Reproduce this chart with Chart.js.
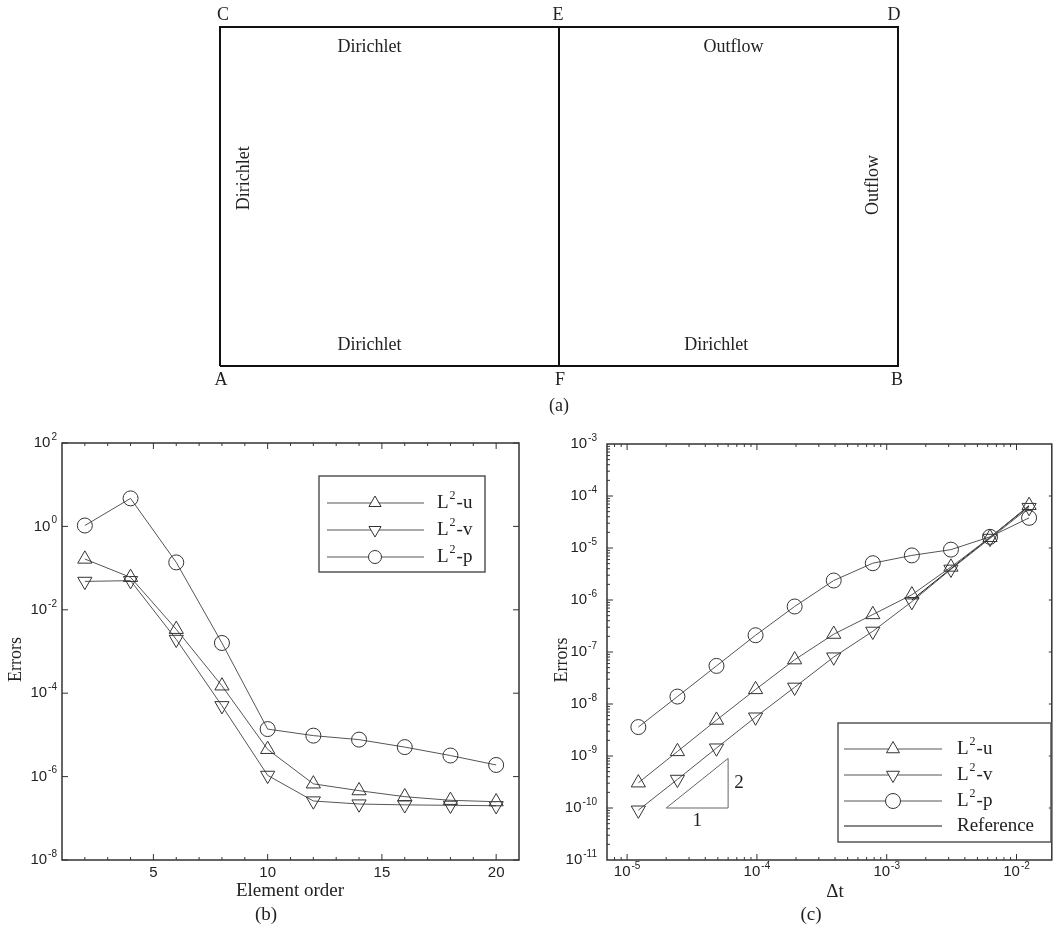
<!DOCTYPE html>
<html>
<head>
<meta charset="utf-8">
<script src="https://cdn.jsdelivr.net/npm/chart.js@4.4.1/dist/chart.umd.min.js"></script>
<style>
  body { margin: 0; background: #fff; }
  #wrap { position: relative; width: 1061px; height: 930px; background: #fff; }
  canvas { position: absolute; }
</style>
</head>
<body>
<div id="wrap">
  <canvas id="domain" width="1061" height="420" style="left:0;top:0"></canvas>
  <canvas id="order" width="540" height="510" style="left:0;top:420px"></canvas>
  <canvas id="dt" width="521" height="510" style="left:540px;top:420px"></canvas>
</div>
<script>
  "use strict";

  // (a) domain outline, in units of the half-width
  var domainX = [0, 2, 2, 0, 0];
  var domainY = [0, 0, 1, 1, 0];
  var splitX = [1, 1];
  var splitY = [0, 1];

  // (b) errors vs element order
  var orders = [2, 4, 6, 8, 10, 12, 14, 16, 18, 20];
  var orderErrU = [0.165, 0.060, 3.4e-3, 1.5e-4, 4.5e-6, 6.7e-7, 4.6e-7, 3.3e-7, 2.7e-7, 2.5e-7];
  var orderErrV = [0.048, 0.050, 1.95e-3, 5.0e-5, 1.07e-6, 2.6e-7, 2.2e-7, 2.1e-7, 2.05e-7, 2.0e-7];
  var orderErrP = [1.05, 4.7, 0.137, 1.6e-3, 1.38e-5, 9.6e-6, 7.7e-6, 5.1e-6, 3.2e-6, 1.9e-6];
  var orderTicks = [5, 10, 15, 20];
  var orderErrExp = [2, 0, -2, -4, -6, -8];

  // (c) errors vs time step
  var dtValues = [1.2207e-5, 2.4414e-5, 4.8828e-5, 9.7656e-5, 1.9531e-4, 3.9063e-4, 7.8125e-4, 1.5625e-3, 3.125e-3, 6.25e-3, 1.25e-2];
  var dtErrU = [3.05e-10, 1.22e-9, 4.9e-9, 1.9e-8, 7.1e-8, 2.2e-7, 5.25e-7, 1.26e-6, 4.3e-6, 1.6e-5, 6.6e-5];
  var dtErrV = [9.1e-11, 3.55e-10, 1.42e-9, 5.6e-9, 2.1e-8, 8.0e-8, 2.5e-7, 9.3e-7, 3.9e-6, 1.53e-5, 6.0e-5];
  var dtErrP = [3.6e-9, 1.39e-8, 5.4e-8, 2.1e-7, 7.5e-7, 2.37e-6, 5.1e-6, 7.2e-6, 9.3e-6, 1.64e-5, 3.8e-5];
  var refDt = [1.5625e-3, 1.25e-2];
  var refErr = [1.0e-6, 6.4e-5];
  var slopeDt = [2e-5, 6e-5, 6e-5, 2e-5];
  var slopeErr = [1e-10, 1e-10, 9e-10, 1e-10];
  var dtExp = [-5, -4, -3, -2];
  var dtErrExp = [-3, -4, -5, -6, -7, -8, -9, -10, -11];

  var sans = '"Liberation Sans", Arial, sans-serif';
  var serif = '"Liberation Serif", "Times New Roman", serif';
  var ink = '#222';
  var lineColor = '#555';
  var markColor = '#333';

  function pts(xs, ys) {
    return xs.map(function (x, i) { return { x: x, y: ys[i] }; });
  }

  function series(label, xs, ys, style, rot) {
    return {
      label: label,
      data: pts(xs, ys),
      showLine: true,
      borderColor: lineColor,
      borderWidth: 1,
      pointStyle: style,
      pointRotation: rot || 0,
      pointRadius: style === 'circle' ? 7.5 : 8.2,
      pointBackgroundColor: 'rgba(0,0,0,0)',
      pointBorderColor: markColor,
      pointBorderWidth: 1,
      clip: false
    };
  }

  function plainLine(xs, ys, color, width) {
    return {
      data: pts(xs, ys), showLine: true, borderColor: color, borderWidth: width,
      pointRadius: 0, clip: false
    };
  }

  function drawPow(ctx, x, y, exp, align) {
    var e = String(exp);
    ctx.font = '15px ' + sans;
    var wb = ctx.measureText('10').width;
    ctx.font = '10px ' + sans;
    var we = ctx.measureText(e).width;
    var x0 = align === 'right' ? x - wb - we - 1 : x - (wb + we + 1) / 2;
    ctx.fillStyle = ink;
    ctx.textAlign = 'left';
    ctx.textBaseline = 'middle';
    ctx.font = '15px ' + sans;
    ctx.fillText('10', x0, y);
    ctx.font = '10px ' + sans;
    ctx.fillText(e, x0 + wb + 1, y - 6);
  }

  function drawL2(ctx, x, y, suffix) {
    ctx.fillStyle = ink;
    ctx.textAlign = 'left';
    ctx.textBaseline = 'middle';
    ctx.font = '19px ' + serif;
    ctx.fillText('L', x, y);
    var w = ctx.measureText('L').width;
    ctx.font = '12px ' + serif;
    ctx.fillText('2', x + w + 1, y - 7);
    var w2 = ctx.measureText('2').width;
    ctx.font = '19px ' + serif;
    ctx.fillText('-' + suffix, x + w + w2 + 2, y);
  }

  function marker(ctx, style, x, y, r) {
    ctx.beginPath();
    if (style === 'circle') {
      ctx.arc(x, y, r, 0, Math.PI * 2);
    } else {
      var s = style === 'down' ? -1 : 1;
      ctx.moveTo(x, y - s * r);
      ctx.lineTo(x + r * 0.866, y + s * r / 2);
      ctx.lineTo(x - r * 0.866, y + s * r / 2);
      ctx.closePath();
    }
    ctx.fillStyle = '#fff';
    ctx.fill();
    ctx.strokeStyle = markColor;
    ctx.lineWidth = 1;
    ctx.stroke();
  }

  function drawLegend(ctx, box, rows) {
    ctx.save();
    ctx.strokeStyle = '#555';
    ctx.lineWidth = 1.5;
    ctx.strokeRect(box.x, box.y, box.w, box.h);
    rows.forEach(function (r) {
      ctx.strokeStyle = r.color;
      ctx.lineWidth = 1;
      ctx.beginPath();
      ctx.moveTo(box.l0, r.y);
      ctx.lineTo(box.l1, r.y);
      ctx.stroke();
      if (r.style) marker(ctx, r.style, box.m, r.y, r.size);
      if (r.suffix) {
        drawL2(ctx, box.t, r.y, r.suffix);
      } else {
        ctx.fillStyle = ink;
        ctx.font = '19px ' + serif;
        ctx.textAlign = 'left';
        ctx.textBaseline = 'middle';
        ctx.fillText(r.text, box.t, r.y);
      }
    });
    ctx.restore();
  }

  // frame with inward ticks on all sides
  function drawFrame(chart, xTicks, yTicksL, yTicksR) {
    var ctx = chart.ctx, a = chart.chartArea, sx = chart.scales.x, sy = chart.scales.y;
    ctx.save();
    ctx.strokeStyle = '#333';
    ctx.lineWidth = 1;
    ctx.beginPath();
    xTicks.forEach(function (t) {
      var px = sx.getPixelForValue(t.v), len = t.major ? 6 : 3;
      ctx.moveTo(px, a.bottom); ctx.lineTo(px, a.bottom - len);
      ctx.moveTo(px, a.top); ctx.lineTo(px, a.top + len);
    });
    yTicksL.forEach(function (t) {
      var py = sy.getPixelForValue(t.v), len = t.major ? 6 : 3;
      ctx.moveTo(a.left, py); ctx.lineTo(a.left + len, py);
    });
    yTicksR.forEach(function (t) {
      var py = sy.getPixelForValue(t.v), len = t.major ? 6 : 3;
      ctx.moveTo(a.right, py); ctx.lineTo(a.right - len, py);
    });
    ctx.stroke();
    ctx.lineWidth = 1.5;
    ctx.strokeRect(a.left, a.top, a.right - a.left, a.bottom - a.top);
    ctx.restore();
  }

  function text(ctx, s, x, y, font, rot) {
    ctx.save();
    ctx.fillStyle = ink;
    ctx.font = font;
    ctx.textAlign = 'center';
    ctx.textBaseline = 'middle';
    ctx.translate(x, y);
    if (rot) ctx.rotate(rot);
    ctx.fillText(s, 0, 0);
    ctx.restore();
  }

  var baseOpts = {
    responsive: false,
    animation: false,
    devicePixelRatio: 1,
    plugins: { legend: { display: false }, tooltip: { enabled: false } }
  };

  function opts(padding, xScale, yScale) {
    return Object.assign({}, baseOpts, {
      layout: { padding: padding },
      scales: { x: xScale, y: yScale }
    });
  }

  // ---------- (a) ----------
  var domainLabels = {
    id: 'domainLabels',
    afterDraw: function (chart) {
      var ctx = chart.ctx, sx = chart.scales.x, sy = chart.scales.y;
      var f = '18px ' + serif;
      var top = sy.getPixelForValue(1), bot = sy.getPixelForValue(0);
      text(ctx, 'C', sx.getPixelForValue(0) + 3, top - 12, f);
      text(ctx, 'E', sx.getPixelForValue(1) - 1, top - 12, f);
      text(ctx, 'D', sx.getPixelForValue(2) - 4, top - 12, f);
      text(ctx, 'A', sx.getPixelForValue(0) + 1, bot + 14, f);
      text(ctx, 'F', sx.getPixelForValue(1) + 1, bot + 14, f);
      text(ctx, 'B', sx.getPixelForValue(2) - 1, bot + 14, f);
      text(ctx, 'Dirichlet', sx.getPixelForValue(0.441), sy.getPixelForValue(0.941), f);
      text(ctx, 'Outflow', sx.getPixelForValue(1.515), sy.getPixelForValue(0.941), f);
      text(ctx, 'Dirichlet', sx.getPixelForValue(0.441), sy.getPixelForValue(0.062), f);
      text(ctx, 'Dirichlet', sx.getPixelForValue(1.464), sy.getPixelForValue(0.062), f);
      text(ctx, 'Dirichlet', sx.getPixelForValue(0.071), sy.getPixelForValue(0.554), f, -Math.PI / 2);
      text(ctx, 'Outflow', sx.getPixelForValue(1.926), sy.getPixelForValue(0.534), f, -Math.PI / 2);
      text(ctx, '(a)', sx.getPixelForValue(1), bot + 40, f);
    }
  };

  new Chart(document.getElementById('domain'), {
    type: 'scatter',
    data: {
      datasets: [
        plainLine(domainX, domainY, '#111', 2),
        plainLine(splitX, splitY, '#111', 2)
      ]
    },
    options: opts({ left: 220, right: 163, top: 27, bottom: 54 },
      { type: 'linear', min: 0, max: 2, display: false },
      { type: 'linear', min: 0, max: 1, display: false }),
    plugins: [domainLabels]
  });

  // ---------- (b) ----------
  var orderDeco = {
    id: 'orderDeco',
    afterDraw: function (chart) {
      var ctx = chart.ctx, a = chart.chartArea, sx = chart.scales.x, sy = chart.scales.y;
      var xt = [];
      for (var i = 2; i <= 20; i++) xt.push({ v: i, major: orderTicks.indexOf(i) >= 0 });
      var yt = orderErrExp.map(function (e) { return { v: Math.pow(10, e), major: true }; });
      drawFrame(chart, xt, yt, yt);
      ctx.save();
      orderTicks.forEach(function (t) {
        text(ctx, String(t), sx.getPixelForValue(t), a.bottom + 13, '15px ' + sans);
      });
      orderErrExp.forEach(function (e) {
        drawPow(ctx, a.left - 5, sy.getPixelForValue(Math.pow(10, e)), e, 'right');
      });
      text(ctx, 'Errors', 16, (a.top + a.bottom) / 2 + 8, '18px ' + serif, -Math.PI / 2);
      text(ctx, 'Element order', 290, a.bottom + 31, '19px ' + serif);
      text(ctx, '(b)', 266, a.bottom + 55, '19px ' + serif);
      drawLegend(ctx, { x: 319, y: 56, w: 166, h: 96, l0: 327, l1: 424, m: 375, t: 437 }, [
        { y: 83, style: 'up', size: 7, color: lineColor, suffix: 'u' },
        { y: 110, style: 'down', size: 7, color: lineColor, suffix: 'v' },
        { y: 137, style: 'circle', size: 6.5, color: lineColor, suffix: 'p' }
      ]);
      ctx.restore();
    }
  };

  new Chart(document.getElementById('order'), {
    type: 'scatter',
    data: {
      datasets: [
        series('L2-u', orders, orderErrU, 'triangle', 0),
        series('L2-v', orders, orderErrV, 'triangle', 180),
        series('L2-p', orders, orderErrP, 'circle', 0)
      ]
    },
    options: opts({ left: 62, right: 21, top: 23, bottom: 70 },
      { type: 'linear', min: 1, max: 21, display: false },
      { type: 'logarithmic', min: 1e-8, max: 1e2, display: false }),
    plugins: [orderDeco]
  });

  // ---------- (c) ----------
  var dtDeco = {
    id: 'dtDeco',
    afterDraw: function (chart) {
      var ctx = chart.ctx, a = chart.chartArea, sx = chart.scales.x, sy = chart.scales.y;
      var xt = [], yl = [], yr = [];
      for (var d = -6; d <= -2; d++) {
        for (var m = 1; m <= 9; m++) {
          var v = m * Math.pow(10, d);
          if (v > sx.min && v < sx.max) xt.push({ v: v, major: m === 1 });
        }
      }
      for (var e = -11; e <= -4; e++) {
        for (var k = 1; k <= 9; k++) {
          var w = k * Math.pow(10, e);
          if (w > sy.min && w < sy.max) yl.push({ v: w, major: k === 1 });
        }
        if (Math.pow(10, e) > sy.min) yr.push({ v: Math.pow(10, e), major: false });
      }
      drawFrame(chart, xt, yl, yr);
      ctx.save();
      dtExp.forEach(function (e) {
        drawPow(ctx, sx.getPixelForValue(Math.pow(10, e)), a.bottom + 12, e, 'center');
      });
      dtErrExp.forEach(function (e) {
        drawPow(ctx, a.left - 10, sy.getPixelForValue(Math.pow(10, e)), e, 'right');
      });
      text(ctx, 'Errors', 22, (a.top + a.bottom) / 2 + 8, '18px ' + serif, -Math.PI / 2);
      text(ctx, '\u0394t', 295, a.bottom + 32, '19px ' + serif);
      text(ctx, '(c)', 271, a.bottom + 55, '19px ' + serif);
      // slope triangle labels
      var xr = sx.getPixelForValue(slopeDt[1]);
      text(ctx, '2', xr + 11, sy.getPixelForValue(3e-10), '19px ' + serif);
      text(ctx, '1', sx.getPixelForValue(Math.sqrt(slopeDt[0] * slopeDt[1])), sy.getPixelForValue(slopeErr[0]) + 13, '19px ' + serif);
      drawLegend(ctx, { x: 298, y: 303, w: 213, h: 119, l0: 304, l1: 402, m: 353, t: 417 }, [
        { y: 329, style: 'up', size: 7.5, color: lineColor, suffix: 'u' },
        { y: 355, style: 'down', size: 7.5, color: lineColor, suffix: 'v' },
        { y: 381, style: 'circle', size: 7.5, color: lineColor, suffix: 'p' },
        { y: 406, style: null, color: '#111', text: 'Reference' }
      ]);
      ctx.restore();
    }
  };

  new Chart(document.getElementById('dt'), {
    type: 'scatter',
    data: {
      datasets: [
        series('L2-u', dtValues, dtErrU, 'triangle', 0),
        series('L2-v', dtValues, dtErrV, 'triangle', 180),
        series('L2-p', dtValues, dtErrP, 'circle', 0),
        plainLine(refDt, refErr, '#111', 1),
        plainLine(slopeDt, slopeErr, '#666', 1)
      ]
    },
    options: opts({ left: 67, right: 1, top: 24, bottom: 70 },
      { type: 'logarithmic', min: 7e-6, max: 1.87e-2, display: false },
      { type: 'logarithmic', min: 1e-11, max: 1e-3, display: false }),
    plugins: [dtDeco]
  });
</script>
</body>
</html>
